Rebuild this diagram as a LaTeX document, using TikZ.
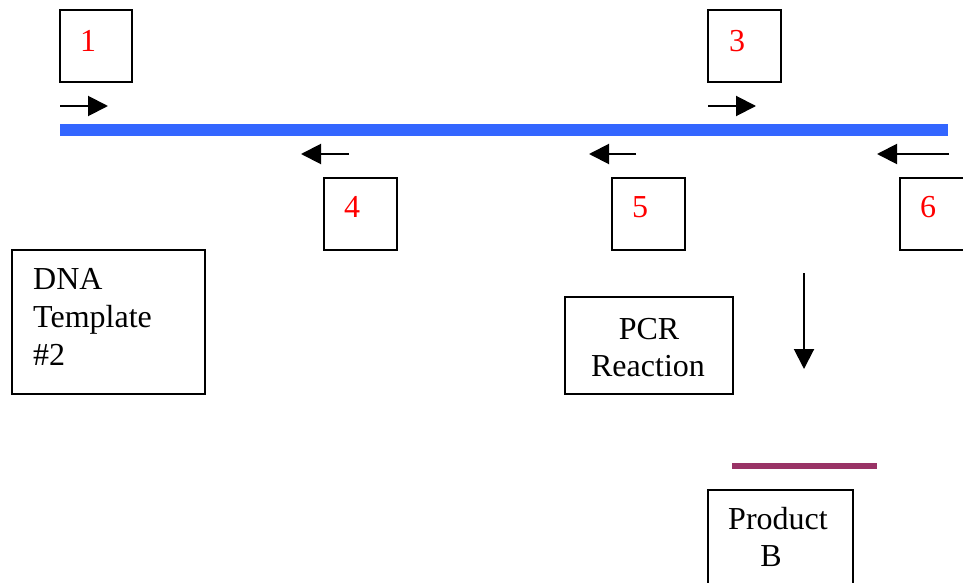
\documentclass[tikz,border=0pt]{standalone}
\usepackage{fontspec}
\setmainfont{Liberation Serif}
\usetikzlibrary{arrows.meta}
\definecolor{strandblue}{HTML}{3366FF}
\definecolor{productline}{HTML}{993366}

\begin{document}
\begin{tikzpicture}[x=1pt,y=-1pt,
  frame/.style={draw,line width=1.6pt,inner sep=0pt},
  num/.style={text=red,font=\fontsize{32}{38}\selectfont,anchor=base,inner sep=0pt},
  txt/.style={font=\fontsize{32}{38}\selectfont,inner sep=0pt},
  primer/.style={line width=2pt,-{Triangle[length=20pt,width=20pt]}},
]
\useasboundingbox (0,0) rectangle (963,583);
\clip (0,0) rectangle (963,583);

% primer boxes
\node[frame,minimum width=72pt,minimum height=72pt] (b1) at (96,46) {};
\node[frame,minimum width=73pt,minimum height=72pt] (b3) at (744.5,46) {};
\node[frame,minimum width=73pt,minimum height=72pt] (b4) at (360.5,214) {};
\node[frame,minimum width=73pt,minimum height=72pt] (b5) at (648.5,214) {};
\node[frame,minimum width=72pt,minimum height=72pt] (b6) at (936,214) {};

\node[num] (n1) at (88,52) {1};
\node[num] (n3) at (737,52) {3};
\node[num] (n4) at (352,217) {4};
\node[num] (n5) at (640,217) {5};
\node[num] (n6) at (928,217) {6};

% template strand
\coordinate (s1) at (60,130);
\coordinate (s2) at (948,130);
\draw[strandblue,line width=11pt] (s1) -- (s2);

% forward primers
\coordinate (f1a) at (60,106);  \coordinate (f1b) at (108,106);
\coordinate (f3a) at (708,106); \coordinate (f3b) at (756,106);
\draw[primer] (f1a) -- (f1b);
\draw[primer] (f3a) -- (f3b);

% reverse primers
\coordinate (r4a) at (349,154); \coordinate (r4b) at (301,154);
\coordinate (r5a) at (636,154); \coordinate (r5b) at (589,154);
\coordinate (r6a) at (949,154); \coordinate (r6b) at (877,154);
\draw[primer] (r4a) -- (r4b);
\draw[primer] (r5a) -- (r5b);
\draw[primer] (r6a) -- (r6b);

% DNA template label
\node[frame,minimum width=193pt,minimum height=144pt] (tpl) at (108.5,322) {};
\node[txt,anchor=base west] (tpl1) at (33,289) {DNA};
\node[txt,anchor=base west] (tpl2) at (33,327) {Template};
\node[txt,anchor=base west] (tpl3) at (33,365) {\#2};

% PCR reaction
\node[frame,minimum width=168pt,minimum height=97pt] (pcr) at (649,345.5) {};
\node[txt,anchor=base] (pcr1) at (649,339) {PCR};
\node[txt,anchor=base] (pcr2) at (648,376) {Reaction};

\coordinate (d1) at (804,273);
\coordinate (d2) at (804,369);
\draw[primer] (d1) -- (d2);

% product
\coordinate (pa) at (732,466);
\coordinate (pb) at (877,466);
\draw[productline,line width=6pt] (pa) -- (pb);

\node[frame,minimum width=145pt,minimum height=110pt] (prod) at (780.5,545) {};
\node[txt,anchor=base] (prod1) at (778,529) {Product};
\node[txt,anchor=base] (prod2) at (771,566) {B};
\end{tikzpicture}
\end{document}
